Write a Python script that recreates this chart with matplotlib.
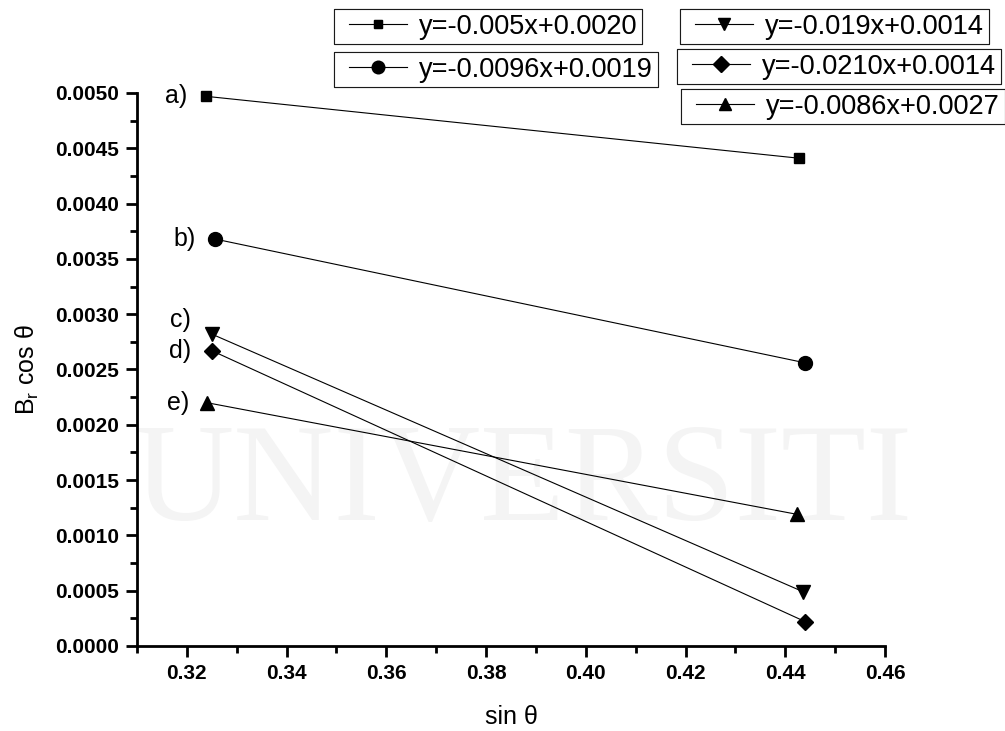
import matplotlib.pyplot as plt
from matplotlib.lines import Line2D
from matplotlib.legend_handler import HandlerLine2D
from matplotlib.ticker import MultipleLocator, FormatStrFormatter

plt.rcParams['font.family'] = ['Liberation Sans', 'DejaVu Sans']

# two points per series: (sin theta, Br cos theta)
x_a = [0.3238, 0.4428]
y_a = [0.00497, 0.00441]
x_b = [0.3256, 0.4440]
y_b = [0.00368, 0.00256]
x_c = [0.3250, 0.4436]
y_c = [0.00282, 0.00049]
x_d = [0.3250, 0.4440]
y_d = [0.00267, 0.00022]
x_e = [0.3240, 0.4424]
y_e = [0.00220, 0.00119]

tags = ['a)', 'b)', 'c)', 'd)', 'e)']
fits = ['y=-0.005x+0.0020', 'y=-0.0096x+0.0019', 'y=-0.019x+0.0014',
        'y=-0.0210x+0.0014', 'y=-0.0086x+0.0027']
markers = ['s', 'o', 'v', 'D', '^']
msizes = [7, 10, 10, 8.5, 10]

xs = [x_a, x_b, x_c, x_d, x_e]
ys = [y_a, y_b, y_c, y_d, y_e]

fig = plt.figure(figsize=(10.05, 7.31), dpi=100)

# faint watermark behind the axes
fig.text(0.52, 0.335, 'UNIVERSITI', ha='center', va='center', fontsize=100,
         family=['Liberation Serif', 'DejaVu Serif'], color='#f4f4f4',
         zorder=-5)

ax = fig.add_axes([0.1363, 0.1163, 0.7443, 0.7565])
ax.patch.set_alpha(0)

handles = []
for i in range(5):
    ax.plot(xs[i], ys[i], color='black', lw=0.8, marker=markers[i],
            ms=msizes[i], mfc='black', mec='black', clip_on=False)
    handles.append(Line2D([], [], color='black', lw=0.8, marker=markers[i],
                          ms=msizes[i] * 0.9, mfc='black', mec='black'))

# letter tags left of the first point
tag_dx = [-0.0038, -0.0038, -0.0042, -0.0042, -0.0036]
tag_dy = [0.0, 0.0, 0.00013, 0.0, 0.0]
for i in range(5):
    ax.text(xs[i][0] + tag_dx[i], ys[i][0] + tag_dy[i], tags[i],
            ha='right', va='center', fontsize=18)

ax.set_xlim(0.31, 0.46)
ax.set_ylim(0, 0.005)
ax.xaxis.set_minor_locator(MultipleLocator(0.01))
ax.yaxis.set_major_locator(MultipleLocator(0.0005))
ax.yaxis.set_minor_locator(MultipleLocator(0.00025))
ax.set_xticks([0.32, 0.34, 0.36, 0.38, 0.40, 0.42, 0.44, 0.46])
ax.xaxis.set_major_formatter(FormatStrFormatter('%.2f'))
ax.yaxis.set_major_formatter(FormatStrFormatter('%.4f'))

for s in ['top', 'right']:
    ax.spines[s].set_visible(False)
for s in ['left', 'bottom']:
    ax.spines[s].set_linewidth(2)
ax.tick_params(which='major', direction='out', length=8, width=2,
               labelsize=15, pad=5)
ax.tick_params(which='minor', direction='out', length=5, width=2)
for lab in ax.get_xticklabels() + ax.get_yticklabels():
    lab.set_fontweight('bold')

ax.set_xlabel('sin \u03b8', fontsize=18, labelpad=16)
ax.set_ylabel('B$_\\mathregular{r}$ cos \u03b8', fontsize=18, labelpad=10)

# separate legend boxes
legend_pos = [(0.3323, 0.9877), (0.3323, 0.9289), (0.6766, 0.9877),
              (0.6736, 0.933), (0.6776, 0.8782)]
for i in range(5):
    leg = fig.legend([handles[i]], [fits[i]], loc='upper left',
                     bbox_to_anchor=legend_pos[i], fontsize=19.5,
                     frameon=True, fancybox=False, edgecolor='black',
                     handlelength=2.53, handletextpad=0.45, borderpad=0.17,
                     borderaxespad=0, numpoints=1,
                     handler_map={Line2D: HandlerLine2D(xpad=0.38)})
    leg.get_frame().set_linewidth(0.8)
    fig.add_artist(leg)

plt.savefig('out.png', dpi=100)
